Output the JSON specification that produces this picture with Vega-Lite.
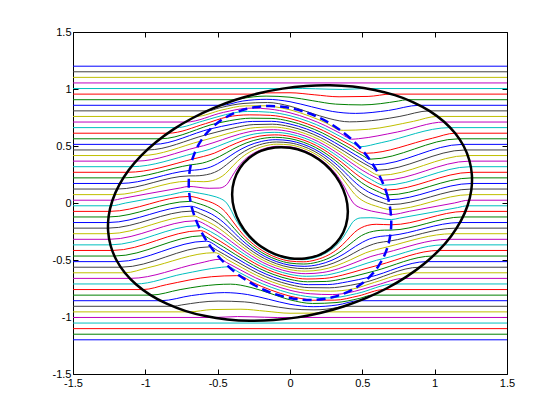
{
"$schema":"https://vega.github.io/schema/vega-lite/v6.json",
"width":434,"height":342,
"autosize":{"type":"none"},
"padding":{"left":73,"top":32,"right":53,"bottom":46},
"background":"white",
"config":{"view":{"stroke":"black","strokeWidth":1},
"axis":{"grid":false,"domain":false,"ticks":true,"tickSize":-5,"tickColor":"black","tickWidth":1,"labelColor":"black","labelFont":"Liberation Sans","labelFontSize":11,"labelPadding":5,"labelFlush":false,"labelOverlap":false}},
"datasets":{
"s":[
{"k":0,"x":-1.5,"y":-1.2},{"k":0,"x":1.5,"y":-1.2},
{"k":1,"x":-1.5,"y":-1.151},{"k":1,"x":1.5,"y":-1.151},
{"k":2,"x":-1.5,"y":-1.102},{"k":2,"x":1.5,"y":-1.102},
{"k":3,"x":-1.5,"y":-1.0531},{"k":3,"x":1.5,"y":-1.0531},
{"k":46,"x":-1.5,"y":1.0531},{"k":46,"x":1.5,"y":1.0531},
{"k":47,"x":-1.5,"y":1.102},{"k":47,"x":1.5,"y":1.102},
{"k":48,"x":-1.5,"y":1.151},{"k":48,"x":1.5,"y":1.151},
{"k":49,"x":-1.5,"y":1.2},{"k":49,"x":1.5,"y":1.2},
{"k":25,"x":-1.5,"y":0.0245},{"k":25,"x":-1.2268,"y":0.0245},{"k":25,"x":-1.158,"y":0.0405},{"k":25,"x":-0.968,"y":0.0848},{"k":25,"x":-0.755,"y":0.133},{"k":25,"x":-0.7,"y":0.1455},{"k":25,"x":-0.5587,"y":0.129},{"k":25,"x":-0.489,"y":0.131},{"k":25,"x":-0.439,"y":0.16},{"k":25,"x":-0.4016,"y":0.2318},{"k":25,"x":-0.3646,"y":0.306},{"k":25,"x":-0.3161,"y":0.3767},{"k":25,"x":-0.2518,"y":0.4362},{"k":25,"x":-0.174,"y":0.4781},{"k":25,"x":-0.0877,"y":0.4975},{"k":25,"x":0,"y":0.4923},{"k":25,"x":0.0822,"y":0.4665},{"k":25,"x":0.1551,"y":0.4261},{"k":25,"x":0.2172,"y":0.3762},{"k":25,"x":0.2692,"y":0.3208},{"k":25,"x":0.313,"y":0.2626},{"k":25,"x":0.3475,"y":0.2007},{"k":25,"x":0.378,"y":0.1376},{"k":25,"x":0.4037,"y":0.0712},{"k":25,"x":0.4187,"y":0.0367},{"k":25,"x":0.4382,"y":0},{"k":25,"x":0.488,"y":-0.0427},{"k":25,"x":0.5322,"y":-0.0606},{"k":25,"x":0.656,"y":-0.0922},{"k":25,"x":0.7,"y":-0.1015},{"k":25,"x":0.827,"y":-0.0724},{"k":25,"x":1.136,"y":0},{"k":25,"x":1.2365,"y":0.0245},{"k":25,"x":1.5,"y":0.0245},
{"k":24,"x":-1.5,"y":-0.0245},{"k":24,"x":-1.2365,"y":-0.0245},{"k":24,"x":-1.136,"y":0},{"k":24,"x":-0.827,"y":0.0724},{"k":24,"x":-0.7,"y":0.1015},{"k":24,"x":-0.656,"y":0.0922},{"k":24,"x":-0.5322,"y":0.0606},{"k":24,"x":-0.488,"y":0.0427},{"k":24,"x":-0.4382,"y":0},{"k":24,"x":-0.4187,"y":-0.0367},{"k":24,"x":-0.4037,"y":-0.0712},{"k":24,"x":-0.378,"y":-0.1376},{"k":24,"x":-0.3475,"y":-0.2007},{"k":24,"x":-0.313,"y":-0.2626},{"k":24,"x":-0.2692,"y":-0.3208},{"k":24,"x":-0.2172,"y":-0.3762},{"k":24,"x":-0.1551,"y":-0.4261},{"k":24,"x":-0.0822,"y":-0.4665},{"k":24,"x":0,"y":-0.4923},{"k":24,"x":0.0877,"y":-0.4975},{"k":24,"x":0.174,"y":-0.4781},{"k":24,"x":0.2518,"y":-0.4362},{"k":24,"x":0.3161,"y":-0.3767},{"k":24,"x":0.3646,"y":-0.306},{"k":24,"x":0.4016,"y":-0.2318},{"k":24,"x":0.439,"y":-0.16},{"k":24,"x":0.489,"y":-0.131},{"k":24,"x":0.5587,"y":-0.129},{"k":24,"x":0.7,"y":-0.1455},{"k":24,"x":0.755,"y":-0.133},{"k":24,"x":0.968,"y":-0.0848},{"k":24,"x":1.158,"y":-0.0405},{"k":24,"x":1.2268,"y":-0.0245},{"k":24,"x":1.5,"y":-0.0245},
{"k":26,"x":-1.5,"y":0.0735},{"k":26,"x":-1.2099,"y":0.0735},{"k":26,"x":-0.7004,"y":0.1911},{"k":26,"x":-0.5956,"y":0.1867},{"k":26,"x":-0.5377,"y":0.1957},{"k":26,"x":-0.4459,"y":0.2574},{"k":26,"x":-0.3921,"y":0.3291},{"k":26,"x":-0.3344,"y":0.3985},{"k":26,"x":-0.264,"y":0.4572},{"k":26,"x":-0.1813,"y":0.498},{"k":26,"x":-0.091,"y":0.516},{"k":26,"x":0,"y":0.5095},{"k":26,"x":0.085,"y":0.4823},{"k":26,"x":0.1603,"y":0.4405},{"k":26,"x":0.2249,"y":0.3894},{"k":26,"x":0.2796,"y":0.3331},{"k":26,"x":0.3266,"y":0.2741},{"k":26,"x":0.366,"y":0.2113},{"k":26,"x":0.404,"y":0.147},{"k":26,"x":0.446,"y":0.0786},{"k":26,"x":0.478,"y":0.0418},{"k":26,"x":0.5336,"y":0},{"k":26,"x":0.591,"y":-0.0258},{"k":26,"x":0.6966,"y":-0.0576},{"k":26,"x":1.2457,"y":0.0735},{"k":26,"x":1.5,"y":0.0735},
{"k":23,"x":-1.5,"y":-0.0735},{"k":23,"x":-1.2457,"y":-0.0735},{"k":23,"x":-0.6966,"y":0.0576},{"k":23,"x":-0.591,"y":0.0258},{"k":23,"x":-0.5336,"y":0},{"k":23,"x":-0.478,"y":-0.0418},{"k":23,"x":-0.446,"y":-0.0786},{"k":23,"x":-0.404,"y":-0.147},{"k":23,"x":-0.366,"y":-0.2113},{"k":23,"x":-0.3266,"y":-0.2741},{"k":23,"x":-0.2796,"y":-0.3331},{"k":23,"x":-0.2249,"y":-0.3894},{"k":23,"x":-0.1603,"y":-0.4405},{"k":23,"x":-0.085,"y":-0.4823},{"k":23,"x":0,"y":-0.5095},{"k":23,"x":0.091,"y":-0.516},{"k":23,"x":0.1813,"y":-0.498},{"k":23,"x":0.264,"y":-0.4572},{"k":23,"x":0.3344,"y":-0.3985},{"k":23,"x":0.3921,"y":-0.3291},{"k":23,"x":0.4459,"y":-0.2574},{"k":23,"x":0.5377,"y":-0.1957},{"k":23,"x":0.5956,"y":-0.1867},{"k":23,"x":0.7004,"y":-0.1911},{"k":23,"x":1.2099,"y":-0.0735},{"k":23,"x":1.5,"y":-0.0735},
{"k":27,"x":-1.5,"y":0.1224},{"k":27,"x":-1.193,"y":0.1224},{"k":27,"x":-0.6985,"y":0.2377},{"k":27,"x":-0.654,"y":0.238},{"k":27,"x":-0.5496,"y":0.2563},{"k":27,"x":-0.4947,"y":0.2856},{"k":27,"x":-0.4215,"y":0.3537},{"k":27,"x":-0.3538,"y":0.4216},{"k":27,"x":-0.2766,"y":0.4791},{"k":27,"x":-0.1888,"y":0.5187},{"k":27,"x":-0.0944,"y":0.5353},{"k":27,"x":0,"y":0.5272},{"k":27,"x":0.0879,"y":0.4984},{"k":27,"x":0.1658,"y":0.4555},{"k":27,"x":0.2328,"y":0.4031},{"k":27,"x":0.2904,"y":0.346},{"k":27,"x":0.3409,"y":0.286},{"k":27,"x":0.3855,"y":0.2226},{"k":27,"x":0.4319,"y":0.1572},{"k":27,"x":0.4926,"y":0.0868},{"k":27,"x":0.5446,"y":0.0477},{"k":27,"x":0.6461,"y":0},{"k":27,"x":0.6908,"y":-0.0145},{"k":27,"x":1.2535,"y":0.1224},{"k":27,"x":1.5,"y":0.1224},
{"k":22,"x":-1.5,"y":-0.1224},{"k":22,"x":-1.2535,"y":-0.1224},{"k":22,"x":-0.6908,"y":0.0145},{"k":22,"x":-0.6461,"y":0},{"k":22,"x":-0.5446,"y":-0.0477},{"k":22,"x":-0.4926,"y":-0.0868},{"k":22,"x":-0.4319,"y":-0.1572},{"k":22,"x":-0.3855,"y":-0.2226},{"k":22,"x":-0.3409,"y":-0.286},{"k":22,"x":-0.2904,"y":-0.346},{"k":22,"x":-0.2328,"y":-0.4031},{"k":22,"x":-0.1658,"y":-0.4555},{"k":22,"x":-0.0879,"y":-0.4984},{"k":22,"x":0,"y":-0.5272},{"k":22,"x":0.0944,"y":-0.5353},{"k":22,"x":0.1888,"y":-0.5187},{"k":22,"x":0.2766,"y":-0.4791},{"k":22,"x":0.3538,"y":-0.4216},{"k":22,"x":0.4215,"y":-0.3537},{"k":22,"x":0.4947,"y":-0.2856},{"k":22,"x":0.5496,"y":-0.2563},{"k":22,"x":0.654,"y":-0.238},{"k":22,"x":0.6985,"y":-0.2377},{"k":22,"x":1.193,"y":-0.1224},{"k":22,"x":1.5,"y":-0.1224},
{"k":28,"x":-1.5,"y":0.1714},{"k":28,"x":-1.1737,"y":0.1714},{"k":28,"x":-0.6939,"y":0.2857},{"k":28,"x":-0.6272,"y":0.2925},{"k":28,"x":-0.548,"y":0.3164},{"k":28,"x":-0.453,"y":0.3801},{"k":28,"x":-0.3742,"y":0.446},{"k":28,"x":-0.2899,"y":0.502},{"k":28,"x":-0.1967,"y":0.5403},{"k":28,"x":-0.0979,"y":0.5554},{"k":28,"x":0,"y":0.5457},{"k":28,"x":0.0908,"y":0.5152},{"k":28,"x":0.1714,"y":0.4709},{"k":28,"x":0.241,"y":0.4174},{"k":28,"x":0.3016,"y":0.3594},{"k":28,"x":0.3558,"y":0.2986},{"k":28,"x":0.406,"y":0.2344},{"k":28,"x":0.4618,"y":0.1681},{"k":28,"x":0.5436,"y":0.0958},{"k":28,"x":0.6192,"y":0.0542},{"k":28,"x":0.6839,"y":0.0283},{"k":28,"x":1.255,"y":0.1714},{"k":28,"x":1.5,"y":0.1714},
{"k":21,"x":-1.5,"y":-0.1714},{"k":21,"x":-1.255,"y":-0.1714},{"k":21,"x":-0.6839,"y":-0.0283},{"k":21,"x":-0.6192,"y":-0.0542},{"k":21,"x":-0.5436,"y":-0.0958},{"k":21,"x":-0.4618,"y":-0.1681},{"k":21,"x":-0.406,"y":-0.2344},{"k":21,"x":-0.3558,"y":-0.2986},{"k":21,"x":-0.3016,"y":-0.3594},{"k":21,"x":-0.241,"y":-0.4174},{"k":21,"x":-0.1714,"y":-0.4709},{"k":21,"x":-0.0908,"y":-0.5152},{"k":21,"x":0,"y":-0.5457},{"k":21,"x":0.0979,"y":-0.5554},{"k":21,"x":0.1967,"y":-0.5403},{"k":21,"x":0.2899,"y":-0.502},{"k":21,"x":0.3742,"y":-0.446},{"k":21,"x":0.453,"y":-0.3801},{"k":21,"x":0.548,"y":-0.3164},{"k":21,"x":0.6272,"y":-0.2925},{"k":21,"x":0.6939,"y":-0.2857},{"k":21,"x":1.1737,"y":-0.1714},{"k":21,"x":1.5,"y":-0.1714},
{"k":29,"x":-1.5,"y":0.2204},{"k":29,"x":-1.1489,"y":0.2204},{"k":29,"x":-0.6865,"y":0.3346},{"k":29,"x":-0.6059,"y":0.3498},{"k":29,"x":-0.4864,"y":0.4082},{"k":29,"x":-0.3957,"y":0.4716},{"k":29,"x":-0.3037,"y":0.526},{"k":29,"x":-0.2048,"y":0.5628},{"k":29,"x":-0.1016,"y":0.5762},{"k":29,"x":0,"y":0.5647},{"k":29,"x":0.0939,"y":0.5327},{"k":29,"x":0.1772,"y":0.487},{"k":29,"x":0.2496,"y":0.4322},{"k":29,"x":0.3132,"y":0.3733},{"k":29,"x":0.3714,"y":0.3117},{"k":29,"x":0.4276,"y":0.2469},{"k":29,"x":0.4935,"y":0.1796},{"k":29,"x":0.5989,"y":0.1056},{"k":29,"x":0.6759,"y":0.0709},{"k":29,"x":1.2564,"y":0.2204},{"k":29,"x":1.5,"y":0.2204},
{"k":20,"x":-1.5,"y":-0.2204},{"k":20,"x":-1.2564,"y":-0.2204},{"k":20,"x":-0.6759,"y":-0.0709},{"k":20,"x":-0.5989,"y":-0.1056},{"k":20,"x":-0.4935,"y":-0.1796},{"k":20,"x":-0.4276,"y":-0.2469},{"k":20,"x":-0.3714,"y":-0.3117},{"k":20,"x":-0.3132,"y":-0.3733},{"k":20,"x":-0.2496,"y":-0.4322},{"k":20,"x":-0.1772,"y":-0.487},{"k":20,"x":-0.0939,"y":-0.5327},{"k":20,"x":0,"y":-0.5647},{"k":20,"x":0.1016,"y":-0.5762},{"k":20,"x":0.2048,"y":-0.5628},{"k":20,"x":0.3037,"y":-0.526},{"k":20,"x":0.3957,"y":-0.4716},{"k":20,"x":0.4864,"y":-0.4082},{"k":20,"x":0.6059,"y":-0.3498},{"k":20,"x":0.6865,"y":-0.3346},{"k":20,"x":1.1489,"y":-0.2204},{"k":20,"x":1.5,"y":-0.2204},
{"k":30,"x":-1.5,"y":0.2694},{"k":30,"x":-1.1242,"y":0.2694},{"k":30,"x":-0.6752,"y":0.3845},{"k":30,"x":-0.5218,"y":0.4379},{"k":30,"x":-0.4182,"y":0.4984},{"k":30,"x":-0.3181,"y":0.551},{"k":30,"x":-0.2133,"y":0.5862},{"k":30,"x":-0.1054,"y":0.5977},{"k":30,"x":0,"y":0.5845},{"k":30,"x":0.0971,"y":0.5507},{"k":30,"x":0.1833,"y":0.5036},{"k":30,"x":0.2584,"y":0.4475},{"k":30,"x":0.3254,"y":0.3878},{"k":30,"x":0.3877,"y":0.3254},{"k":30,"x":0.4503,"y":0.26},{"k":30,"x":0.5271,"y":0.1918},{"k":30,"x":0.616,"y":0.137},{"k":30,"x":0.6647,"y":0.1134},{"k":30,"x":1.254,"y":0.2694},{"k":30,"x":1.5,"y":0.2694},
{"k":19,"x":-1.5,"y":-0.2694},{"k":19,"x":-1.254,"y":-0.2694},{"k":19,"x":-0.6647,"y":-0.1134},{"k":19,"x":-0.616,"y":-0.137},{"k":19,"x":-0.5271,"y":-0.1918},{"k":19,"x":-0.4503,"y":-0.26},{"k":19,"x":-0.3877,"y":-0.3254},{"k":19,"x":-0.3254,"y":-0.3878},{"k":19,"x":-0.2584,"y":-0.4475},{"k":19,"x":-0.1833,"y":-0.5036},{"k":19,"x":-0.0971,"y":-0.5507},{"k":19,"x":0,"y":-0.5845},{"k":19,"x":0.1054,"y":-0.5977},{"k":19,"x":0.2133,"y":-0.5862},{"k":19,"x":0.3181,"y":-0.551},{"k":19,"x":0.4182,"y":-0.4984},{"k":19,"x":0.5218,"y":-0.4379},{"k":19,"x":0.6752,"y":-0.3845},{"k":19,"x":1.1242,"y":-0.2694},{"k":19,"x":1.5,"y":-0.2694},
{"k":31,"x":-1.5,"y":0.3184},{"k":31,"x":-1.0942,"y":0.3184},{"k":31,"x":-0.6604,"y":0.4363},{"k":31,"x":-0.5592,"y":0.4692},{"k":31,"x":-0.4418,"y":0.5265},{"k":31,"x":-0.3331,"y":0.5769},{"k":31,"x":-0.2221,"y":0.6103},{"k":31,"x":-0.1093,"y":0.62},{"k":31,"x":0,"y":0.6049},{"k":31,"x":0.1003,"y":0.5692},{"k":31,"x":0.1895,"y":0.5207},{"k":31,"x":0.2675,"y":0.4633},{"k":31,"x":0.338,"y":0.4028},{"k":31,"x":0.4047,"y":0.3396},{"k":31,"x":0.474,"y":0.2737},{"k":31,"x":0.5626,"y":0.2048},{"k":31,"x":0.6516,"y":0.1558},{"k":31,"x":1.2474,"y":0.3184},{"k":31,"x":1.5,"y":0.3184},
{"k":18,"x":-1.5,"y":-0.3184},{"k":18,"x":-1.2474,"y":-0.3184},{"k":18,"x":-0.6516,"y":-0.1558},{"k":18,"x":-0.5626,"y":-0.2048},{"k":18,"x":-0.474,"y":-0.2737},{"k":18,"x":-0.4047,"y":-0.3396},{"k":18,"x":-0.338,"y":-0.4028},{"k":18,"x":-0.2675,"y":-0.4633},{"k":18,"x":-0.1895,"y":-0.5207},{"k":18,"x":-0.1003,"y":-0.5692},{"k":18,"x":0,"y":-0.6049},{"k":18,"x":0.1093,"y":-0.62},{"k":18,"x":0.2221,"y":-0.6103},{"k":18,"x":0.3331,"y":-0.5769},{"k":18,"x":0.4418,"y":-0.5265},{"k":18,"x":0.5592,"y":-0.4692},{"k":18,"x":0.6604,"y":-0.4363},{"k":18,"x":1.0942,"y":-0.3184},{"k":18,"x":1.5,"y":-0.3184},
{"k":32,"x":-1.5,"y":0.3673},{"k":32,"x":-1.0612,"y":0.3673},{"k":32,"x":-0.6413,"y":0.4892},{"k":32,"x":-0.5985,"y":0.5022},{"k":32,"x":-0.4664,"y":0.5558},{"k":32,"x":-0.3487,"y":0.6039},{"k":32,"x":-0.2312,"y":0.6353},{"k":32,"x":-0.1133,"y":0.643},{"k":32,"x":0,"y":0.6259},{"k":32,"x":0.1037,"y":0.5883},{"k":32,"x":0.1959,"y":0.5383},{"k":32,"x":0.277,"y":0.4797},{"k":32,"x":0.351,"y":0.4182},{"k":32,"x":0.4222,"y":0.3543},{"k":32,"x":0.4987,"y":0.288},{"k":32,"x":0.5999,"y":0.2183},{"k":32,"x":0.6365,"y":0.1986},{"k":32,"x":1.2408,"y":0.3673},{"k":32,"x":1.5,"y":0.3673},
{"k":17,"x":-1.5,"y":-0.3673},{"k":17,"x":-1.2408,"y":-0.3673},{"k":17,"x":-0.6365,"y":-0.1986},{"k":17,"x":-0.5999,"y":-0.2183},{"k":17,"x":-0.4987,"y":-0.288},{"k":17,"x":-0.4222,"y":-0.3543},{"k":17,"x":-0.351,"y":-0.4182},{"k":17,"x":-0.277,"y":-0.4797},{"k":17,"x":-0.1959,"y":-0.5383},{"k":17,"x":-0.1037,"y":-0.5883},{"k":17,"x":0,"y":-0.6259},{"k":17,"x":0.1133,"y":-0.643},{"k":17,"x":0.2312,"y":-0.6353},{"k":17,"x":0.3487,"y":-0.6039},{"k":17,"x":0.4664,"y":-0.5558},{"k":17,"x":0.5985,"y":-0.5022},{"k":17,"x":0.6413,"y":-0.4892},{"k":17,"x":1.0612,"y":-0.3673},{"k":17,"x":1.5,"y":-0.3673},
{"k":33,"x":-1.5,"y":0.4163},{"k":33,"x":-1.0279,"y":0.4163},{"k":33,"x":-0.6172,"y":0.5433},{"k":33,"x":-0.492,"y":0.5863},{"k":33,"x":-0.3648,"y":0.6318},{"k":33,"x":-0.2406,"y":0.6612},{"k":33,"x":-0.1175,"y":0.6667},{"k":33,"x":0,"y":0.6475},{"k":33,"x":0.1072,"y":0.6081},{"k":33,"x":0.2025,"y":0.5565},{"k":33,"x":0.2867,"y":0.4965},{"k":33,"x":0.3644,"y":0.4343},{"k":33,"x":0.4404,"y":0.3695},{"k":33,"x":0.5246,"y":0.3029},{"k":33,"x":0.6205,"y":0.2426},{"k":33,"x":1.2267,"y":0.4163},{"k":33,"x":1.5,"y":0.4163},
{"k":16,"x":-1.5,"y":-0.4163},{"k":16,"x":-1.2267,"y":-0.4163},{"k":16,"x":-0.6205,"y":-0.2426},{"k":16,"x":-0.5246,"y":-0.3029},{"k":16,"x":-0.4404,"y":-0.3695},{"k":16,"x":-0.3644,"y":-0.4343},{"k":16,"x":-0.2867,"y":-0.4965},{"k":16,"x":-0.2025,"y":-0.5565},{"k":16,"x":-0.1072,"y":-0.6081},{"k":16,"x":0,"y":-0.6475},{"k":16,"x":0.1175,"y":-0.6667},{"k":16,"x":0.2406,"y":-0.6612},{"k":16,"x":0.3648,"y":-0.6318},{"k":16,"x":0.492,"y":-0.5863},{"k":16,"x":0.6172,"y":-0.5433},{"k":16,"x":1.0279,"y":-0.4163},{"k":16,"x":1.5,"y":-0.4163},
{"k":34,"x":-1.5,"y":0.4653},{"k":34,"x":-0.9857,"y":0.4653},{"k":34,"x":-0.5852,"y":0.5962},{"k":34,"x":-0.5187,"y":0.6182},{"k":34,"x":-0.3816,"y":0.6609},{"k":34,"x":-0.2504,"y":0.688},{"k":34,"x":-0.1218,"y":0.6911},{"k":34,"x":0,"y":0.6699},{"k":34,"x":0.1108,"y":0.6284},{"k":34,"x":0.2094,"y":0.5753},{"k":34,"x":0.2967,"y":0.5139},{"k":34,"x":0.3784,"y":0.4509},{"k":34,"x":0.4593,"y":0.3854},{"k":34,"x":0.5515,"y":0.3184},{"k":34,"x":0.5993,"y":0.2866},{"k":34,"x":1.2113,"y":0.4653},{"k":34,"x":1.5,"y":0.4653},
{"k":15,"x":-1.5,"y":-0.4653},{"k":15,"x":-1.2113,"y":-0.4653},{"k":15,"x":-0.5993,"y":-0.2866},{"k":15,"x":-0.5515,"y":-0.3184},{"k":15,"x":-0.4593,"y":-0.3854},{"k":15,"x":-0.3784,"y":-0.4509},{"k":15,"x":-0.2967,"y":-0.5139},{"k":15,"x":-0.2094,"y":-0.5753},{"k":15,"x":-0.1108,"y":-0.6284},{"k":15,"x":0,"y":-0.6699},{"k":15,"x":0.1218,"y":-0.6911},{"k":15,"x":0.2504,"y":-0.688},{"k":15,"x":0.3816,"y":-0.6609},{"k":15,"x":0.5187,"y":-0.6182},{"k":15,"x":0.5852,"y":-0.5962},{"k":15,"x":0.9857,"y":-0.4653},{"k":15,"x":1.5,"y":-0.4653},
{"k":35,"x":-1.5,"y":0.5143},{"k":35,"x":-0.9435,"y":0.5143},{"k":35,"x":-0.5464,"y":0.6511},{"k":35,"x":-0.3989,"y":0.6909},{"k":35,"x":-0.2604,"y":0.7155},{"k":35,"x":-0.1263,"y":0.7163},{"k":35,"x":0,"y":0.6928},{"k":35,"x":0.1145,"y":0.6494},{"k":35,"x":0.2164,"y":0.5945},{"k":35,"x":0.3071,"y":0.5318},{"k":35,"x":0.3927,"y":0.468},{"k":35,"x":0.4788,"y":0.4018},{"k":35,"x":0.5793,"y":0.3346},{"k":35,"x":1.1924,"y":0.5143},{"k":35,"x":1.5,"y":0.5143},
{"k":14,"x":-1.5,"y":-0.5143},{"k":14,"x":-1.1924,"y":-0.5143},{"k":14,"x":-0.5793,"y":-0.3346},{"k":14,"x":-0.4788,"y":-0.4018},{"k":14,"x":-0.3927,"y":-0.468},{"k":14,"x":-0.3071,"y":-0.5318},{"k":14,"x":-0.2164,"y":-0.5945},{"k":14,"x":-0.1145,"y":-0.6494},{"k":14,"x":0,"y":-0.6928},{"k":14,"x":0.1263,"y":-0.7163},{"k":14,"x":0.2604,"y":-0.7155},{"k":14,"x":0.3989,"y":-0.6909},{"k":14,"x":0.5464,"y":-0.6511},{"k":14,"x":0.9435,"y":-0.5143},{"k":14,"x":1.5,"y":-0.5143},
{"k":36,"x":-1.5,"y":0.5633},{"k":36,"x":-0.8953,"y":0.5633},{"k":36,"x":-0.4963,"y":0.7023},{"k":36,"x":-0.4168,"y":0.7219},{"k":36,"x":-0.2708,"y":0.744},{"k":36,"x":-0.1308,"y":0.7423},{"k":36,"x":0,"y":0.7165},{"k":36,"x":0.1183,"y":0.6708},{"k":36,"x":0.2236,"y":0.6144},{"k":36,"x":0.3177,"y":0.5503},{"k":36,"x":0.4075,"y":0.4856},{"k":36,"x":0.4991,"y":0.4188},{"k":36,"x":0.5534,"y":0.3843},{"k":36,"x":1.1669,"y":0.5633},{"k":36,"x":1.5,"y":0.5633},
{"k":13,"x":-1.5,"y":-0.5633},{"k":13,"x":-1.1669,"y":-0.5633},{"k":13,"x":-0.5534,"y":-0.3843},{"k":13,"x":-0.4991,"y":-0.4188},{"k":13,"x":-0.4075,"y":-0.4856},{"k":13,"x":-0.3177,"y":-0.5503},{"k":13,"x":-0.2236,"y":-0.6144},{"k":13,"x":-0.1183,"y":-0.6708},{"k":13,"x":0,"y":-0.7165},{"k":13,"x":0.1308,"y":-0.7423},{"k":13,"x":0.2708,"y":-0.744},{"k":13,"x":0.4168,"y":-0.7219},{"k":13,"x":0.4963,"y":-0.7023},{"k":13,"x":0.8953,"y":-0.5633},{"k":13,"x":1.5,"y":-0.5633},
{"k":37,"x":-1.5,"y":0.6122},{"k":37,"x":-0.8427,"y":0.6122},{"k":37,"x":-0.5842,"y":0.6962},{"k":37,"x":-0.4364,"y":0.7538},{"k":37,"x":-0.2814,"y":0.7732},{"k":37,"x":-0.1355,"y":0.7688},{"k":37,"x":0,"y":0.7407},{"k":37,"x":0.1221,"y":0.6929},{"k":37,"x":0.231,"y":0.6348},{"k":37,"x":0.3287,"y":0.5692},{"k":37,"x":0.4226,"y":0.5037},{"k":37,"x":0.5206,"y":0.4358},{"k":37,"x":0.984,"y":0.5682},{"k":37,"x":1.1413,"y":0.6122},{"k":37,"x":1.5,"y":0.6122},
{"k":12,"x":-1.5,"y":-0.6122},{"k":12,"x":-1.1413,"y":-0.6122},{"k":12,"x":-0.984,"y":-0.5682},{"k":12,"x":-0.5206,"y":-0.4358},{"k":12,"x":-0.4226,"y":-0.5037},{"k":12,"x":-0.3287,"y":-0.5692},{"k":12,"x":-0.231,"y":-0.6348},{"k":12,"x":-0.1221,"y":-0.6929},{"k":12,"x":0,"y":-0.7407},{"k":12,"x":0.1355,"y":-0.7688},{"k":12,"x":0.2814,"y":-0.7732},{"k":12,"x":0.4364,"y":-0.7538},{"k":12,"x":0.5842,"y":-0.6962},{"k":12,"x":0.8427,"y":-0.6122},{"k":12,"x":1.5,"y":-0.6122},
{"k":38,"x":-1.5,"y":0.6612},{"k":38,"x":-0.786,"y":0.6612},{"k":38,"x":-0.6031,"y":0.7187},{"k":38,"x":-0.4472,"y":0.7746},{"k":38,"x":-0.3592,"y":0.7967},{"k":38,"x":-0.2924,"y":0.8034},{"k":38,"x":-0.1404,"y":0.7963},{"k":38,"x":0,"y":0.7656},{"k":38,"x":0.1261,"y":0.7156},{"k":38,"x":0.2386,"y":0.6557},{"k":38,"x":0.3399,"y":0.5887},{"k":38,"x":0.4383,"y":0.5223},{"k":38,"x":0.4805,"y":0.4931},{"k":38,"x":0.6304,"y":0.529},{"k":38,"x":1.1039,"y":0.6612},{"k":38,"x":1.5,"y":0.6612},
{"k":11,"x":-1.5,"y":-0.6612},{"k":11,"x":-1.1039,"y":-0.6612},{"k":11,"x":-0.6304,"y":-0.529},{"k":11,"x":-0.4805,"y":-0.4931},{"k":11,"x":-0.4383,"y":-0.5223},{"k":11,"x":-0.3399,"y":-0.5887},{"k":11,"x":-0.2386,"y":-0.6557},{"k":11,"x":-0.1261,"y":-0.7156},{"k":11,"x":0,"y":-0.7656},{"k":11,"x":0.1404,"y":-0.7963},{"k":11,"x":0.2924,"y":-0.8034},{"k":11,"x":0.3592,"y":-0.7967},{"k":11,"x":0.4472,"y":-0.7746},{"k":11,"x":0.6031,"y":-0.7187},{"k":11,"x":0.786,"y":-0.6612},{"k":11,"x":1.5,"y":-0.6612},
{"k":39,"x":-1.5,"y":0.7102},{"k":39,"x":-0.7204,"y":0.7102},{"k":39,"x":-0.4591,"y":0.7952},{"k":39,"x":-0.3024,"y":0.8308},{"k":39,"x":-0.261,"y":0.8325},{"k":39,"x":-0.1453,"y":0.8244},{"k":39,"x":0,"y":0.7912},{"k":39,"x":0.1302,"y":0.7388},{"k":39,"x":0.2464,"y":0.6771},{"k":39,"x":0.3515,"y":0.6087},{"k":39,"x":0.428,"y":0.5596},{"k":39,"x":0.4733,"y":0.564},{"k":39,"x":0.7422,"y":0.6228},{"k":39,"x":1.0666,"y":0.7102},{"k":39,"x":1.5,"y":0.7102},
{"k":10,"x":-1.5,"y":-0.7102},{"k":10,"x":-1.0666,"y":-0.7102},{"k":10,"x":-0.7422,"y":-0.6228},{"k":10,"x":-0.4733,"y":-0.564},{"k":10,"x":-0.428,"y":-0.5596},{"k":10,"x":-0.3515,"y":-0.6087},{"k":10,"x":-0.2464,"y":-0.6771},{"k":10,"x":-0.1302,"y":-0.7388},{"k":10,"x":0,"y":-0.7912},{"k":10,"x":0.1453,"y":-0.8244},{"k":10,"x":0.261,"y":-0.8325},{"k":10,"x":0.3024,"y":-0.8308},{"k":10,"x":0.4591,"y":-0.7952},{"k":10,"x":0.7204,"y":-0.7102},{"k":10,"x":1.5,"y":-0.7102},
{"k":40,"x":-1.5,"y":0.7592},{"k":40,"x":-0.6506,"y":0.7592},{"k":40,"x":-0.471,"y":0.8157},{"k":40,"x":-0.3101,"y":0.8521},{"k":40,"x":-0.1504,"y":0.8531},{"k":40,"x":-0.1248,"y":0.8482},{"k":40,"x":0,"y":0.8174},{"k":40,"x":0.1344,"y":0.7626},{"k":40,"x":0.2545,"y":0.6992},{"k":40,"x":0.3452,"y":0.6396},{"k":40,"x":0.368,"y":0.6374},{"k":40,"x":0.5427,"y":0.6467},{"k":40,"x":0.8539,"y":0.7165},{"k":40,"x":1.016,"y":0.7592},{"k":40,"x":1.5,"y":0.7592},
{"k":9,"x":-1.5,"y":-0.7592},{"k":9,"x":-1.016,"y":-0.7592},{"k":9,"x":-0.8539,"y":-0.7165},{"k":9,"x":-0.5427,"y":-0.6467},{"k":9,"x":-0.368,"y":-0.6374},{"k":9,"x":-0.3452,"y":-0.6396},{"k":9,"x":-0.2545,"y":-0.6992},{"k":9,"x":-0.1344,"y":-0.7626},{"k":9,"x":0,"y":-0.8174},{"k":9,"x":0.1248,"y":-0.8482},{"k":9,"x":0.1504,"y":-0.8531},{"k":9,"x":0.3101,"y":-0.8521},{"k":9,"x":0.471,"y":-0.8157},{"k":9,"x":0.6506,"y":-0.7592},{"k":9,"x":1.5,"y":-0.7592},
{"k":41,"x":-1.5,"y":0.8082},{"k":41,"x":-0.5693,"y":0.8082},{"k":41,"x":-0.4828,"y":0.8362},{"k":41,"x":-0.3179,"y":0.8734},{"k":41,"x":-0.1554,"y":0.8814},{"k":41,"x":0,"y":0.8493},{"k":41,"x":0.1396,"y":0.7917},{"k":41,"x":0.2696,"y":0.7409},{"k":41,"x":0.411,"y":0.7118},{"k":41,"x":0.6121,"y":0.7294},{"k":41,"x":0.7598,"y":0.7598},{"k":41,"x":0.9631,"y":0.8082},{"k":41,"x":1.5,"y":0.8082},
{"k":8,"x":-1.5,"y":-0.8082},{"k":8,"x":-0.9631,"y":-0.8082},{"k":8,"x":-0.7598,"y":-0.7598},{"k":8,"x":-0.6121,"y":-0.7294},{"k":8,"x":-0.411,"y":-0.7118},{"k":8,"x":-0.2696,"y":-0.7409},{"k":8,"x":-0.1396,"y":-0.7917},{"k":8,"x":0,"y":-0.8493},{"k":8,"x":0.1554,"y":-0.8814},{"k":8,"x":0.3179,"y":-0.8734},{"k":8,"x":0.4828,"y":-0.8362},{"k":8,"x":0.5693,"y":-0.8082},{"k":8,"x":1.5,"y":-0.8082},
{"k":42,"x":-1.5,"y":0.8571},{"k":42,"x":-0.4769,"y":0.8571},{"k":42,"x":-0.3256,"y":0.8947},{"k":42,"x":-0.1603,"y":0.9096},{"k":42,"x":0,"y":0.8885},{"k":42,"x":0.1488,"y":0.8442},{"k":42,"x":0.2923,"y":0.8032},{"k":42,"x":0.4538,"y":0.786},{"k":42,"x":0.6813,"y":0.8119},{"k":42,"x":0.8914,"y":0.8571},{"k":42,"x":1.5,"y":0.8571},
{"k":7,"x":-1.5,"y":-0.8571},{"k":7,"x":-0.8914,"y":-0.8571},{"k":7,"x":-0.6813,"y":-0.8119},{"k":7,"x":-0.4538,"y":-0.786},{"k":7,"x":-0.2923,"y":-0.8032},{"k":7,"x":-0.1488,"y":-0.8442},{"k":7,"x":0,"y":-0.8885},{"k":7,"x":0.1603,"y":-0.9096},{"k":7,"x":0.3256,"y":-0.8947},{"k":7,"x":0.4769,"y":-0.8571},{"k":7,"x":1.5,"y":-0.8571},
{"k":43,"x":-1.5,"y":0.9061},{"k":43,"x":-0.373,"y":0.9061},{"k":43,"x":-0.3334,"y":0.916},{"k":43,"x":-0.1653,"y":0.9377},{"k":43,"x":0,"y":0.9278},{"k":43,"x":0.1581,"y":0.8968},{"k":43,"x":0.3157,"y":0.8674},{"k":43,"x":0.4968,"y":0.8604},{"k":43,"x":0.7507,"y":0.8945},{"k":43,"x":0.8063,"y":0.9061},{"k":43,"x":1.5,"y":0.9061},
{"k":6,"x":-1.5,"y":-0.9061},{"k":6,"x":-0.8063,"y":-0.9061},{"k":6,"x":-0.7507,"y":-0.8945},{"k":6,"x":-0.4968,"y":-0.8604},{"k":6,"x":-0.3157,"y":-0.8674},{"k":6,"x":-0.1581,"y":-0.8968},{"k":6,"x":0,"y":-0.9278},{"k":6,"x":0.1653,"y":-0.9377},{"k":6,"x":0.3334,"y":-0.916},{"k":6,"x":0.373,"y":-0.9061},{"k":6,"x":1.5,"y":-0.9061},
{"k":44,"x":-1.5,"y":0.9551},{"k":44,"x":-0.2359,"y":0.9551},{"k":44,"x":-0.1703,"y":0.966},{"k":44,"x":0,"y":0.967},{"k":44,"x":0.1674,"y":0.9494},{"k":44,"x":0.3391,"y":0.9317},{"k":44,"x":0.5397,"y":0.9348},{"k":44,"x":0.6965,"y":0.9551},{"k":44,"x":1.5,"y":0.9551},
{"k":5,"x":-1.5,"y":-0.9551},{"k":5,"x":-0.6965,"y":-0.9551},{"k":5,"x":-0.5397,"y":-0.9348},{"k":5,"x":-0.3391,"y":-0.9317},{"k":5,"x":-0.1674,"y":-0.9494},{"k":5,"x":0,"y":-0.967},{"k":5,"x":0.1703,"y":-0.966},{"k":5,"x":0.2359,"y":-0.9551},{"k":5,"x":1.5,"y":-0.9551},
{"k":45,"x":-1.5,"y":1.0041},{"k":45,"x":-0.0458,"y":1.0041},{"k":45,"x":0,"y":1.0063},{"k":45,"x":0.1767,"y":1.0018},{"k":45,"x":0.3625,"y":0.996},{"k":45,"x":0.5219,"y":1.0041},{"k":45,"x":1.5,"y":1.0041},
{"k":4,"x":-1.5,"y":-1.0041},{"k":4,"x":-0.5219,"y":-1.0041},{"k":4,"x":-0.3625,"y":-0.996},{"k":4,"x":-0.1767,"y":-1.0018},{"k":4,"x":0,"y":-1.0063},{"k":4,"x":0.0458,"y":-1.0041},{"k":4,"x":1.5,"y":-1.0041}
],
"eo":[
{"i":0,"x":1.2011,"y":0.4975},{"i":1,"x":1.1419,"y":0.6114},{"i":2,"x":1.063,"y":0.7148},{"i":3,"x":0.9662,"y":0.8061},{"i":4,"x":0.8527,"y":0.8835},{"i":5,"x":0.7246,"y":0.9459},{"i":6,"x":0.5841,"y":0.992},{"i":7,"x":0.4337,"y":1.0212},{"i":8,"x":0.2758,"y":1.0329},{"i":9,"x":0.1132,"y":1.0269},{"i":10,"x":-0.0514,"y":1.0033},{"i":11,"x":-0.2151,"y":0.9625},{"i":12,"x":-0.375,"y":0.9054},{"i":13,"x":-0.5285,"y":0.8327},{"i":14,"x":-0.673,"y":0.7457},{"i":15,"x":-0.8062,"y":0.6461},{"i":16,"x":-0.9254,"y":0.5353},{"i":17,"x":-1.0287,"y":0.4154},{"i":18,"x":-1.1145,"y":0.2884},{"i":19,"x":-1.1812,"y":0.1565},{"i":20,"x":-1.2277,"y":0.0219},{"i":21,"x":-1.2532,"y":-0.1131},{"i":22,"x":-1.2572,"y":-0.2462},{"i":23,"x":-1.2397,"y":-0.375},
{"i":24,"x":-1.2011,"y":-0.4975},{"i":25,"x":-1.1419,"y":-0.6114},{"i":26,"x":-1.063,"y":-0.7148},{"i":27,"x":-0.9662,"y":-0.8061},{"i":28,"x":-0.8527,"y":-0.8835},{"i":29,"x":-0.7246,"y":-0.9459},{"i":30,"x":-0.5841,"y":-0.992},{"i":31,"x":-0.4337,"y":-1.0212},{"i":32,"x":-0.2758,"y":-1.0329},{"i":33,"x":-0.1132,"y":-1.0269},{"i":34,"x":0.0514,"y":-1.0033},{"i":35,"x":0.2151,"y":-0.9625},{"i":36,"x":0.375,"y":-0.9054},{"i":37,"x":0.5285,"y":-0.8327},{"i":38,"x":0.673,"y":-0.7457},{"i":39,"x":0.8062,"y":-0.6461},{"i":40,"x":0.9254,"y":-0.5353},{"i":41,"x":1.0287,"y":-0.4154},{"i":42,"x":1.1145,"y":-0.2884},{"i":43,"x":1.1812,"y":-0.1565},{"i":44,"x":1.2277,"y":-0.0219},{"i":45,"x":1.2532,"y":0.1131},{"i":46,"x":1.2572,"y":0.2462},{"i":47,"x":1.2397,"y":0.375}
],
"d":[
{"i":0,"x":0.7,"y":-0.17},{"i":1,"x":0.676,"y":0.051},{"i":2,"x":0.606,"y":0.269},{"i":3,"x":0.495,"y":0.469},{"i":4,"x":0.35,"y":0.636},{"i":5,"x":0.181,"y":0.761},{"i":6,"x":0,"y":0.833},{"i":7,"x":-0.181,"y":0.849},{"i":8,"x":-0.35,"y":0.806},{"i":9,"x":-0.495,"y":0.709},{"i":10,"x":-0.606,"y":0.564},{"i":11,"x":-0.676,"y":0.38},{"i":12,"x":-0.7,"y":0.17},{"i":13,"x":-0.676,"y":-0.051},{"i":14,"x":-0.606,"y":-0.269},{"i":15,"x":-0.495,"y":-0.469},{"i":16,"x":-0.35,"y":-0.636},{"i":17,"x":-0.181,"y":-0.761},{"i":18,"x":0,"y":-0.833},{"i":19,"x":0.181,"y":-0.849},{"i":20,"x":0.35,"y":-0.806},{"i":21,"x":0.495,"y":-0.709},{"i":22,"x":0.606,"y":-0.564},{"i":23,"x":0.676,"y":-0.38}
],
"ei":[
{"i":0,"x":0.4,"y":-0.075},{"i":1,"x":0.386,"y":0.053},{"i":2,"x":0.346,"y":0.177},{"i":3,"x":0.283,"y":0.289},{"i":4,"x":0.2,"y":0.382},{"i":5,"x":0.1035,"y":0.448},{"i":6,"x":0,"y":0.484},{"i":7,"x":-0.1035,"y":0.487},{"i":8,"x":-0.2,"y":0.457},{"i":9,"x":-0.283,"y":0.395},{"i":10,"x":-0.346,"y":0.307},{"i":11,"x":-0.386,"y":0.198},{"i":12,"x":-0.4,"y":0.075},{"i":13,"x":-0.386,"y":-0.053},{"i":14,"x":-0.346,"y":-0.177},{"i":15,"x":-0.283,"y":-0.289},{"i":16,"x":-0.2,"y":-0.382},{"i":17,"x":-0.1035,"y":-0.448},{"i":18,"x":0,"y":-0.484},{"i":19,"x":0.1035,"y":-0.487},{"i":20,"x":0.2,"y":-0.457},{"i":21,"x":0.283,"y":-0.395},{"i":22,"x":0.346,"y":-0.307},{"i":23,"x":0.386,"y":-0.198}
]
},
"layer":[
{"data":{"name":"s"},
"mark":{"type":"line","strokeWidth":1,"interpolate":"monotone","clip":true},
"encoding":{
"x":{"field":"x","type":"quantitative","scale":{"domain":[-1.5,1.5],"nice":false,"zero":false},"axis":{"orient":"bottom","title":null,"values":[-1.5,-1,-0.5,0,0.5,1,1.5],"format":"~g","labelExpr":"replace(datum.label,'−','-')","labelPadding":8}},
"y":{"field":"y","type":"quantitative","scale":{"domain":[-1.5,1.5],"nice":false,"zero":false},"axis":{"orient":"left","title":null,"values":[-1.5,-1,-0.5,0,0.5,1,1.5],"format":"~g","labelExpr":"replace(datum.label,'−','-')","labelPadding":7}},
"color":{"field":"k","type":"nominal","legend":null,"scale":{"domain":[0,1,2,3,4,5,6,7,8,9,10,11,12,13,14,15,16,17,18,19,20,21,22,23,24,25,26,27,28,29,30,31,32,33,34,35,36,37,38,39,40,41,42,43,44,45,46,47,48,49],
"range":["#0000ff","#008000","#ff0000","#00bfbf","#bf00bf","#bfbf00","#404040","#0000ff","#008000","#ff0000","#00bfbf","#bf00bf","#bfbf00","#404040","#0000ff","#008000","#ff0000","#00bfbf","#bf00bf","#bfbf00","#404040","#0000ff","#008000","#ff0000","#00bfbf","#bf00bf","#bfbf00","#404040","#0000ff","#008000","#ff0000","#00bfbf","#bf00bf","#bfbf00","#404040","#0000ff","#008000","#ff0000","#00bfbf","#bf00bf","#bfbf00","#404040","#0000ff","#008000","#ff0000","#00bfbf","#bf00bf","#bfbf00","#404040","#0000ff"]}},
"order":{"field":"x","type":"quantitative"}
}},
{"data":{"name":"d"},
"mark":{"type":"line","stroke":"#0000ff","strokeWidth":2.5,"strokeDash":[9,5],"interpolate":"cardinal-closed"},
"encoding":{
"x":{"field":"x","type":"quantitative","scale":{"domain":[-1.5,1.5],"nice":false,"zero":false},"axis":null},
"y":{"field":"y","type":"quantitative","scale":{"domain":[-1.5,1.5],"nice":false,"zero":false},"axis":null},
"order":{"field":"i","type":"quantitative"}
}},
{"data":{"name":"ei"},
"mark":{"type":"line","stroke":"black","strokeWidth":2.5,"interpolate":"cardinal-closed"},
"encoding":{
"x":{"field":"x","type":"quantitative","scale":{"domain":[-1.5,1.5],"nice":false,"zero":false},"axis":null},
"y":{"field":"y","type":"quantitative","scale":{"domain":[-1.5,1.5],"nice":false,"zero":false},"axis":null},
"order":{"field":"i","type":"quantitative"}
}},
{"data":{"name":"eo"},
"mark":{"type":"line","stroke":"black","strokeWidth":2.5,"interpolate":"cardinal-closed"},
"encoding":{
"x":{"field":"x","type":"quantitative","scale":{"domain":[-1.5,1.5],"nice":false,"zero":false},"axis":{"orient":"top","title":null,"labels":false,"values":[-1.5,-1,-0.5,0,0.5,1,1.5]}},
"y":{"field":"y","type":"quantitative","scale":{"domain":[-1.5,1.5],"nice":false,"zero":false},"axis":{"orient":"right","title":null,"labels":false,"values":[-1.5,-1,-0.5,0,0.5,1,1.5]}},
"order":{"field":"i","type":"quantitative"}
}}
],
"resolve":{"axis":{"x":"independent","y":"independent"}}
}
